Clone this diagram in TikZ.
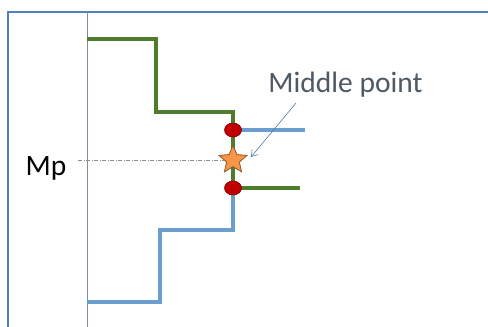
\documentclass[tikz,border=0pt]{standalone}
\usepackage{fontspec}
\setmainfont{Carlito}
\usetikzlibrary{shapes.geometric,arrows.meta}
\definecolor{frameblue}{HTML}{4F81BD}
\definecolor{lineblue}{HTML}{6A9ECF}
\definecolor{linegreen}{HTML}{4E7D2E}
\definecolor{dotred}{HTML}{C00000}
\definecolor{starorange}{HTML}{F79646}
\definecolor{txtgray}{HTML}{4F5963}
\tikzset{
  frame/.style={draw=frameblue, line width=1.6pt},
  axis/.style={draw=black!50!frameblue!60, line width=0.6pt},
  bluestep/.style={draw=lineblue, line width=4pt},
  greenstep/.style={draw=linegreen, line width=4pt},
  reddot/.style={ellipse, fill=dotred, draw=dotred!70!black, line width=0.6pt, minimum width=17pt, minimum height=14pt, inner sep=0pt},
  mpstar/.style={star, star points=5, star point ratio=2.2, fill=starorange, draw=starorange!60!black, line width=0.7pt, minimum size=29pt, inner sep=0pt},
  guide/.style={draw=black!45, line width=0.5pt, dash pattern=on 4pt off 1.5pt on 1pt off 1.5pt},
  pointer/.style={draw=lineblue!80!black, line width=0.6pt, -{Straight Barb[length=6pt,width=8pt]}},
}
\begin{document}
\begin{tikzpicture}[x=1pt,y=-1pt]
\useasboundingbox (0,0) rectangle (488,327);
% frame
\draw[frame] (8,327) -- (8,12) -- (488,12);
\draw[axis] (87,12) -- (87,327);
% step lines
\coordinate (b0) at (87,302);
\coordinate (b1) at (160,302);
\coordinate (b2) at (160,230);
\coordinate (b3) at (233,230);
\coordinate (b4) at (233,130);
\coordinate (b5) at (305,130);
\coordinate (g0) at (87,39);
\coordinate (g1) at (156,39);
\coordinate (g2) at (156,112);
\coordinate (g3) at (233,112);
\coordinate (g4) at (233,188);
\coordinate (g5) at (300,188);
\draw[bluestep] (b0) -- (b1) -- (b2) -- (b3) -- (b4) -- (b5);
\draw[greenstep] (g0) -- (g1) -- (g2) -- (g3) -- (g4) -- (g5);
% guide
\node[font=\fontsize{29.5}{34}\selectfont, anchor=base] (mp) at (46,175) {Mp};
\node[mpstar] (st) at (233,160) {};
\coordinate (gl) at (78,160);
\draw[guide] (gl) -- (st.center);
\node[mpstar] at (233,160) {};
\node[reddot] (d1) at (233,130) {};
\node[reddot] (d2) at (233,188) {};
\node[font=\fontsize{29.5}{34}\selectfont, text=txtgray, anchor=base] (lbl) at (345.5,92) {Middle point};
\coordinate (ps) at (296,103);
\coordinate (pe) at (251,157);
\draw[pointer] (ps) -- (pe);
\end{tikzpicture}
\end{document}
